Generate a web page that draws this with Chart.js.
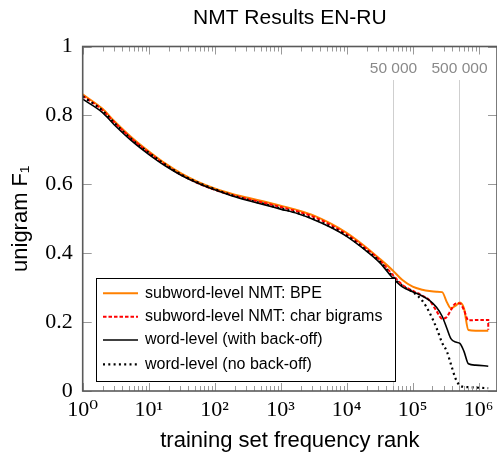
<!DOCTYPE html>
<html>
<head>
<meta charset="utf-8">
<script src="https://cdn.jsdelivr.net/npm/chart.js@4"></script>
<style>
  html, body { margin: 0; padding: 0; background: #fff; }
  canvas { display: block; }
</style>
</head>
<body>
<canvas id="chart" width="497" height="454"></canvas>
<script>
// training set frequency rank (x) shared by all curves
const ranks = [1, 2, 3, 6, 10, 18, 32, 56, 100, 180, 320, 560, 1000, 1800, 3200, 5600,
  10000, 18000, 32000, 50000, 70000, 100000, 140000, 180000, 230000, 280000, 330000,
  380000, 450000, 520000, 600000, 700000, 900000, 1400000];

const bpe = [0.861, 0.819, 0.784, 0.730, 0.696, 0.660, 0.630, 0.607, 0.588, 0.573,
  0.561, 0.550, 0.538, 0.525, 0.509, 0.487, 0.459, 0.423, 0.383, 0.350,
  0.322, 0.303, 0.294, 0.290, 0.288, 0.287, 0.258, 0.240, 0.248, 0.257,
  0.240, 0.177, 0.175, 0.175];

const charBigrams = [0.857, 0.815, 0.780, 0.726, 0.692, 0.656, 0.626, 0.603, 0.584, 0.569,
  0.557, 0.546, 0.534, 0.521, 0.505, 0.483, 0.455, 0.419, 0.379, 0.337,
  0.308, 0.291, 0.277, 0.263, 0.232, 0.210, 0.215, 0.235, 0.254, 0.254,
  0.235, 0.205, 0.206, 0.206];
// char bigrams curve drops straight down at its last rank
const charBigramsEndRank = [1400000];
const charBigramsEnd = [0.178];

const wordBackoff = [0.847, 0.808, 0.773, 0.720, 0.687, 0.653, 0.625, 0.603, 0.584, 0.567,
  0.553, 0.541, 0.528, 0.515, 0.497, 0.476, 0.449, 0.413, 0.372, 0.328,
  0.302, 0.288, 0.276, 0.263, 0.243, 0.217, 0.182, 0.152, 0.142, 0.138,
  0.115, 0.079, 0.075, 0.072];

const wordNoBackoff = [0.855, 0.814, 0.779, 0.725, 0.692, 0.657, 0.627, 0.605, 0.586, 0.569,
  0.555, 0.543, 0.530, 0.517, 0.499, 0.478, 0.451, 0.415, 0.375, 0.332,
  0.305, 0.288, 0.262, 0.228, 0.183, 0.140, 0.115, 0.078, 0.035, 0.016,
  0.012, 0.011, 0.010, 0.008];

const seriesNames = ["subword-level NMT: BPE", "subword-level NMT: char bigrams",
  "word-level (with back-off)", "word-level (no back-off)"];

const yTicks = [0, 0.2, 0.4, 0.6, 0.8, 1];
const markerRanks = [50000, 500000];
const markerLabels = ["50 000", "500 000"];

const sup = ["\u2070", "\u00b9", "\u00b2", "\u00b3", "\u2074", "\u2075", "\u2076"];

function points(vals, extraX, extraY) {
  const pts = ranks.map((r, i) => ({ x: r, y: vals[i] }));
  if (extraX) extraX.forEach((r, i) => pts.push({ x: r, y: extraY[i] }));
  return pts;
}

// draws the pgfplots-like frame, inward ticks, marker lines and the legend
const decor = {
  id: "decor",
  beforeDatasetsDraw(chart) {
    const { ctx, chartArea: a, scales: { x } } = chart;
    ctx.save();
    ctx.strokeStyle = "#cfcfcf";
    ctx.lineWidth = 1;
    ctx.fillStyle = "#8a8a8a";
    ctx.font = "15.5px 'Liberation Sans', Arial, sans-serif";
    ctx.textAlign = "center";
    ctx.textBaseline = "middle";
    markerRanks.forEach((r, i) => {
      const px = Math.round(x.getPixelForValue(r)) + 0.5;
      ctx.beginPath();
      ctx.moveTo(px, 80);
      ctx.lineTo(px, a.bottom);
      ctx.stroke();
      ctx.fillText(markerLabels[i], px, 69);
    });
    ctx.restore();
  },
  afterDatasetsDraw(chart) {
    const { ctx, chartArea: a, scales: { x, y } } = chart;
    ctx.save();
    // minor + major ticks, pointing inwards
    ctx.strokeStyle = "#9a9a9a";
    ctx.lineWidth = 1;
    ctx.beginPath();
    for (let k = 0; k <= 6; k++) {
      for (let m = 1; m <= 9; m++) {
        const v = m * Math.pow(10, k);
        if (v > x.max) break;
        const px = Math.round(x.getPixelForValue(v)) + 0.5;
        const len = m === 1 ? 8 : 5;
        ctx.moveTo(px, a.bottom); ctx.lineTo(px, a.bottom - len);
        ctx.moveTo(px, a.top); ctx.lineTo(px, a.top + len);
      }
    }
    yTicks.forEach(v => {
      const py = Math.round(y.getPixelForValue(v)) + 0.5;
      ctx.moveTo(a.left, py); ctx.lineTo(a.left + 9, py);
      ctx.moveTo(a.right, py); ctx.lineTo(a.right - 9, py);
    });
    ctx.stroke();
    // frame
    ctx.strokeStyle = "#5a5a5a";
    ctx.lineWidth = 1.6;
    ctx.strokeRect(a.left, a.top, a.right - a.left, a.bottom - a.top);
    ctx.restore();
  },
  afterDraw(chart) {
    const { ctx } = chart;
    const box = { left: 96.5, top: 278.5, right: 395.5, bottom: 381.5 };
    const rows = [293.3, 316.7, 340, 364.3];
    ctx.save();
    ctx.fillStyle = "#fff";
    ctx.fillRect(box.left, box.top, box.right - box.left, box.bottom - box.top);
    ctx.strokeStyle = "#000";
    ctx.lineWidth = 1;
    ctx.strokeRect(box.left, box.top, box.right - box.left, box.bottom - box.top);
    ctx.font = "16px 'Liberation Sans', Arial, sans-serif";
    ctx.textBaseline = "middle";
    ctx.textAlign = "left";
    chart.data.datasets.forEach((ds, i) => {
      ctx.strokeStyle = ds.borderColor;
      ctx.lineWidth = ds.borderWidth;
      ctx.setLineDash(ds.borderDash || []);
      ctx.beginPath();
      ctx.moveTo(103, rows[i]);
      ctx.lineTo(138, rows[i]);
      ctx.stroke();
      ctx.fillStyle = "#000";
      ctx.fillText(ds.label, 145, rows[i]);
    });
    ctx.restore();
  }
};

const ctx = document.getElementById("chart").getContext("2d");
new Chart(ctx, {
  type: "line",
  data: {
    datasets: [
      { label: seriesNames[0], data: points(bpe), borderColor: "#ff8000", borderWidth: 2, order: 4 },
      { label: seriesNames[1], data: points(charBigrams, charBigramsEndRank, charBigramsEnd),
        borderColor: "#ff0000", borderWidth: 2, borderDash: [3.5, 2], order: 3 },
      { label: seriesNames[2], data: points(wordBackoff), borderColor: "#000000", borderWidth: 1.6, order: 2 },
      { label: seriesNames[3], data: points(wordNoBackoff), borderColor: "#000000", borderWidth: 2.2,
        borderDash: [2, 3.3], order: 1 }
    ]
  },
  options: {
    responsive: false,
    animation: false,
    devicePixelRatio: 1,
    layout: { padding: 0 },
    elements: {
      point: { radius: 0 },
      line: { cubicInterpolationMode: "monotone", fill: false }
    },
    plugins: {
      legend: { display: false },
      tooltip: { enabled: false },
      title: {
        display: true,
        text: "NMT Results EN-RU",
        fullSize: false,
        color: "#000",
        font: { family: "'Liberation Sans', Arial, sans-serif", size: 21, weight: "normal" },
        padding: { top: 6, bottom: 15.3 }
      }
    },
    scales: {
      x: {
        type: "logarithmic",
        min: 1,
        max: 1.9e6,
        grid: { display: false, drawTicks: false },
        border: { display: false },
        ticks: {
          autoSkip: false,
          maxRotation: 0,
          padding: 6,
          color: "#000",
          font: { family: "'Liberation Serif', 'DejaVu Serif', serif", size: 22 },
          callback: v => {
            const e = Math.log10(v);
            const r = Math.round(e);
            return Math.abs(e - r) < 1e-9 ? "10" + sup[r] : "";
          }
        },
        title: {
          display: true,
          text: "training set frequency rank",
          color: "#000",
          font: { family: "'Liberation Sans', Arial, sans-serif", size: 22 },
          padding: { top: 2, bottom: 0 }
        },
        afterFit: s => { s.height = 63; s.paddingLeft = 0; s.paddingRight = 0; }
      },
      y: {
        min: 0,
        max: 1,
        afterBuildTicks: s => { s.ticks = yTicks.map(v => ({ value: v })); },
        grid: { display: false, drawTicks: false },
        border: { display: false },
        ticks: {
          padding: 10,
          color: "#000",
          font: { family: "'Liberation Serif', 'DejaVu Serif', serif", size: 22 },
          callback: v => (v === 0 || v === 1) ? String(v) : v.toFixed(1)
        },
        title: {
          display: true,
          text: "unigram F\u2081",
          color: "#000",
          font: { family: "'Liberation Sans', Arial, sans-serif", size: 22 },
          padding: { top: 8, bottom: 0 }
        },
        afterFit: s => { s.width = 82.7; s.paddingTop = 0; s.paddingBottom = 0; }
      }
    }
  },
  plugins: [decor]
});
</script>
</body>
</html>
